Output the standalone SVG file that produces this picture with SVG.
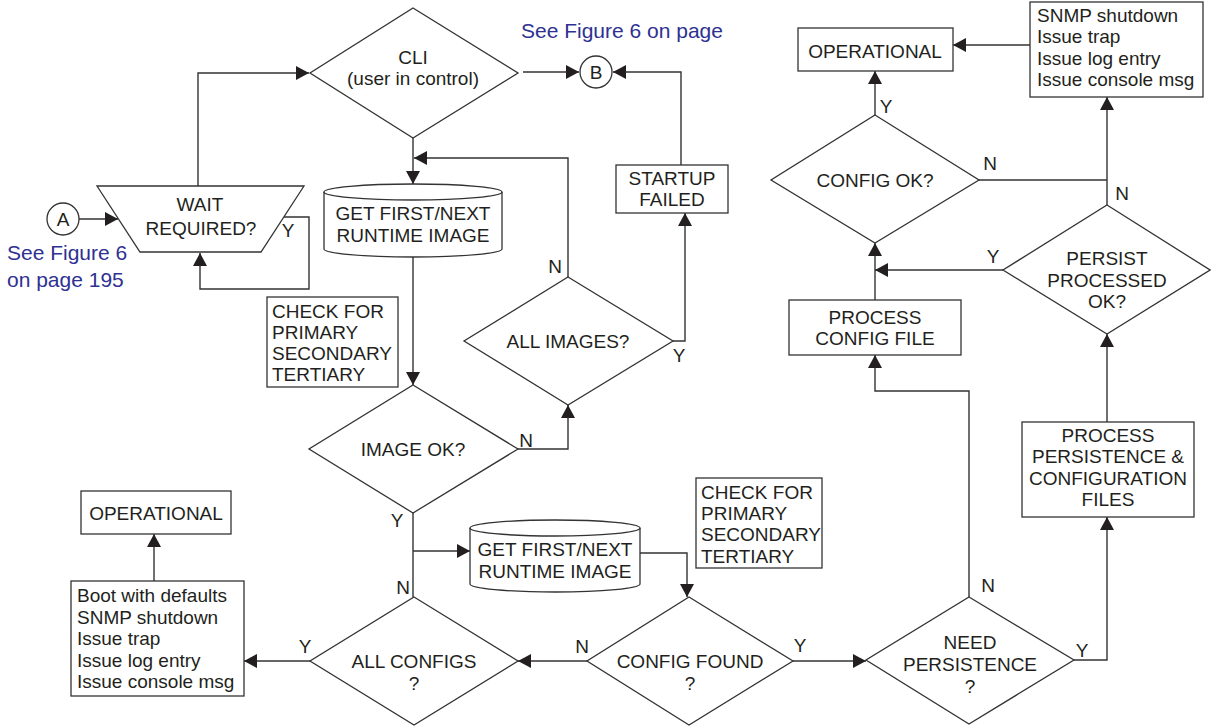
<svg xmlns="http://www.w3.org/2000/svg" width="1211" height="728" viewBox="0 0 1211 728">
<defs>
<marker id="ah" markerUnits="userSpaceOnUse" markerWidth="14" markerHeight="14" refX="13" refY="7" orient="auto">
<path d="M0,0 L13,7 L0,14 z" fill="#231f20"/>
</marker>
<style>
.s{fill:#fff;stroke:#333;stroke-width:1.3}
.c{fill:none;stroke:#333;stroke-width:1.4}
.a{marker-end:url(#ah)}
text{font-family:"Liberation Sans",Arial,sans-serif;font-size:19px;fill:#231f20}
.m{text-anchor:middle}
.b{fill:#2e3192;font-size:21px}
</style>
</defs>
<rect width="1211" height="728" fill="#fff"/>

<g id="connectors">
<path class="c a" d="M79,219 H118"/>
<path class="c a" d="M198,186 V73 H309"/>
<path class="c a" d="M284,217 H309 V289 H200 V253"/>
<path class="c a" d="M523,72 H579"/>
<path class="c a" d="M681,165 V72 H613"/>
<path class="c a" d="M413,138 V184"/>
<path class="c a" d="M568,277 V158 H414"/>
<path class="c a" d="M413,257 V385"/>
<path class="c a" d="M518,449 H568 V405"/>
<path class="c a" d="M673,341 H685 V213"/>
<path class="c" d="M413,513 V597"/>
<path class="c a" d="M413,551 H470"/>
<path class="c a" d="M640,553 H687 V597"/>
<path class="c a" d="M310,661 H244"/>
<path class="c a" d="M154,581 V534"/>
<path class="c a" d="M587,661 H518"/>
<path class="c a" d="M793,661 H866"/>
<path class="c a" d="M1074,660 H1107 V517"/>
<path class="c a" d="M969,597 V391 H875 V355"/>
<path class="c a" d="M1107,422 V334"/>
<path class="c a" d="M875,300 V243"/>
<path class="c a" d="M1003,270 H875"/>
<path class="c a" d="M875,115 V71"/>
<path class="c" d="M979,180 H1107"/>
<path class="c a" d="M1107,205 V97"/>
<path class="c a" d="M1030,45 H953"/>
</g>

<g id="label-texts">
<text class="b" x="521" y="38">See Figure 6 on page</text>
<text class="b" x="7" y="260">See Figure 6</text>
<text class="b" x="7" y="287">on page 195</text>
<text class="m" x="288" y="237">Y</text>
<text class="m" x="555" y="273">N</text>
<text class="m" x="526" y="447">N</text>
<text class="m" x="679" y="362">Y</text>
<text class="m" x="397" y="527">Y</text>
<text class="m" x="403" y="594">N</text>
<text class="m" x="305" y="653">Y</text>
<text class="m" x="582" y="653">N</text>
<text class="m" x="800" y="652">Y</text>
<text class="m" x="988" y="592">N</text>
<text class="m" x="1082" y="657">Y</text>
<text class="m" x="886" y="113">Y</text>
<text class="m" x="990" y="170">N</text>
<text class="m" x="1122" y="200">N</text>
<text class="m" x="993" y="263">Y</text>
</g>

<g id="connector-A">
<circle class="s" cx="63" cy="219" r="16"/>
<text class="m" x="63" y="226">A</text>
</g>
<g id="connector-B">
<circle class="s" cx="596" cy="72" r="16"/>
<text class="m" x="596" y="79">B</text>
</g>

<g id="wait-required">
<path class="s" d="M97,186 H304 L261,252 H140 Z"/>
<text class="m" x="200" y="211">WAIT</text>
<text class="m" x="201" y="235">REQUIRED?</text>
</g>

<g id="cli">
<path class="s" d="M413,8 L518,73 L413,138 L310,73 Z"/>
<text class="m" x="413" y="64">CLI</text>
<text class="m" x="413" y="85">(user in control)</text>
</g>

<g id="startup-failed">
<rect class="s" x="616" y="165" width="112" height="48"/>
<text class="m" x="672" y="185">STARTUP</text>
<text class="m" x="672" y="206">FAILED</text>
</g>

<g id="get-image-1">
<path class="s" d="M324,192 A89,8 0 0 1 502,192 V249 A89,8 0 0 1 324,249 Z"/>
<path class="c" d="M324,192 A89,8 0 0 0 502,192"/>
<text class="m" x="413" y="220">GET FIRST/NEXT</text>
<text class="m" x="413" y="242">RUNTIME IMAGE</text>
</g>

<g id="check-for-1">
<rect class="s" x="267" y="297" width="131" height="90"/>
<text x="272" y="318">CHECK FOR</text>
<text x="272" y="339">PRIMARY</text>
<text x="272" y="360">SECONDARY</text>
<text x="272" y="381">TERTIARY</text>
</g>

<g id="image-ok">
<path class="s" d="M413,385 L518,449 L413,513 L309,449 Z"/>
<text class="m" x="413" y="456">IMAGE OK?</text>
</g>

<g id="all-images">
<path class="s" d="M568,277 L673,341 L568,405 L464,341 Z"/>
<text class="m" x="568" y="348">ALL IMAGES?</text>
</g>

<g id="operational-bottom">
<rect class="s" x="81" y="491" width="150" height="43"/>
<text class="m" x="156" y="520">OPERATIONAL</text>
</g>

<g id="boot-defaults">
<rect class="s" x="71" y="581" width="173" height="115"/>
<text x="77" y="602">Boot with defaults</text>
<text x="77" y="624">SNMP shutdown</text>
<text x="77" y="645">Issue trap</text>
<text x="77" y="667">Issue log entry</text>
<text x="77" y="688">Issue console msg</text>
</g>

<g id="all-configs">
<path class="s" d="M414,597 L518,661 L414,725 L310,661 Z"/>
<text class="m" x="414" y="668">ALL CONFIGS</text>
<text class="m" x="414" y="690">?</text>
</g>

<g id="get-image-2">
<path class="s" d="M470,528 A85,8 0 0 1 640,528 V584 A85,8 0 0 1 470,584 Z"/>
<path class="c" d="M470,528 A85,8 0 0 0 640,528"/>
<text class="m" x="555" y="556">GET FIRST/NEXT</text>
<text class="m" x="555" y="578">RUNTIME IMAGE</text>
</g>

<g id="check-for-2">
<rect class="s" x="696" y="478" width="126" height="90"/>
<text x="701" y="499">CHECK FOR</text>
<text x="701" y="520">PRIMARY</text>
<text x="701" y="541">SECONDARY</text>
<text x="701" y="563">TERTIARY</text>
</g>

<g id="config-found">
<path class="s" d="M689,597 L793,661 L689,725 L587,661 Z"/>
<text class="m" x="690" y="668">CONFIG FOUND</text>
<text class="m" x="690" y="690">?</text>
</g>

<g id="need-persistence">
<path class="s" d="M969,597 L1074,660 L969,724 L866,660 Z"/>
<text class="m" x="970" y="649">NEED</text>
<text class="m" x="970" y="671">PERSISTENCE</text>
<text class="m" x="970" y="693">?</text>
</g>

<g id="process-persistence">
<rect class="s" x="1022" y="422" width="172" height="95"/>
<text class="m" x="1108" y="442">PROCESS</text>
<text class="m" x="1108" y="463">PERSISTENCE &amp;</text>
<text class="m" x="1108" y="485">CONFIGURATION</text>
<text class="m" x="1108" y="506">FILES</text>
</g>

<g id="process-config">
<rect class="s" x="789" y="300" width="172" height="55"/>
<text class="m" x="875" y="324">PROCESS</text>
<text class="m" x="875" y="345">CONFIG FILE</text>
</g>

<g id="persist-processed">
<path class="s" d="M1107,205 L1210,270 L1107,334 L1003,270 Z"/>
<text class="m" x="1107" y="265">PERSIST</text>
<text class="m" x="1107" y="287">PROCESSED</text>
<text class="m" x="1107" y="308">OK?</text>
</g>

<g id="config-ok">
<path class="s" d="M875,115 L979,180 L875,243 L771,180 Z"/>
<text class="m" x="875" y="187">CONFIG OK?</text>
</g>

<g id="operational-top">
<rect class="s" x="798" y="28" width="155" height="43"/>
<text class="m" x="875" y="58">OPERATIONAL</text>
</g>

<g id="snmp-shutdown">
<rect class="s" x="1030" y="2" width="173" height="95"/>
<text x="1037" y="22">SNMP shutdown</text>
<text x="1037" y="43">Issue trap</text>
<text x="1037" y="65">Issue log entry</text>
<text x="1037" y="86">Issue console msg</text>
</g>
</svg>
